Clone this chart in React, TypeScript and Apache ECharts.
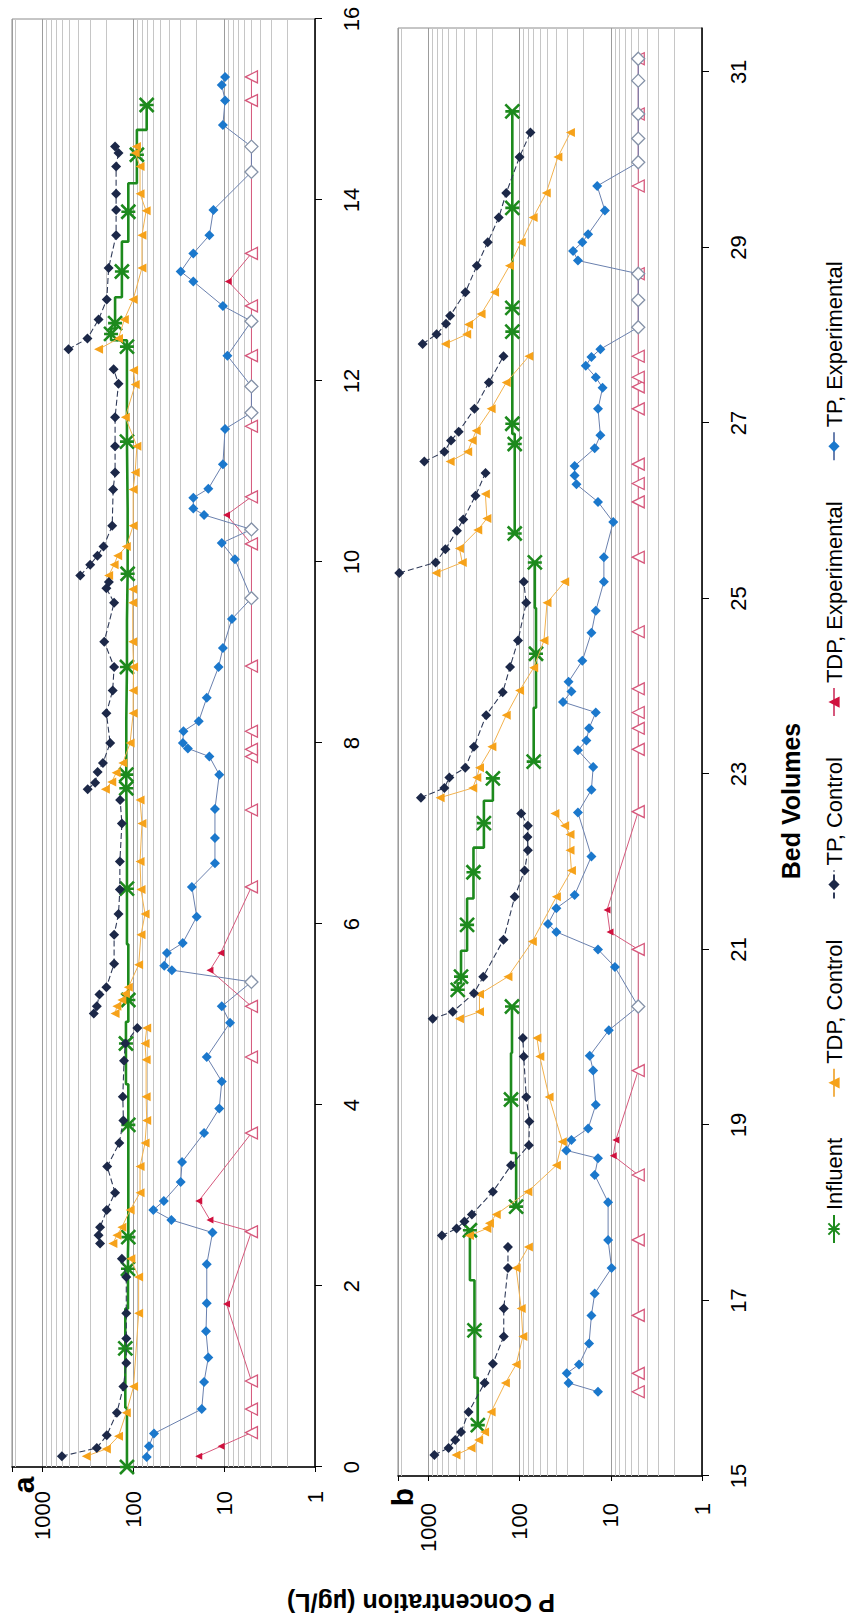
import React, { useEffect, useRef } from 'react';
import * as echarts from 'echarts';

// ---------- constants ----------
const ND = 5; // detection-limit value plotted with open markers
const W = 1621;
const H = 850;
const FONT = '"Liberation Sans", Arial, Helvetica, sans-serif';

// ---------- tick / grid values ----------
const panelBTicks = [15, 17, 19, 21, 23, 25, 27, 29, 31];
const logLabels = [1, 10, 100, 1000];
const minorGrid = [2, 3, 4, 5, 6, 7, 8, 9, 20, 30, 40, 50, 60, 70, 80, 90, 200, 300, 400, 500, 600, 700, 800, 900, 2000];

type P = [number, number] | null;

// ---------- Panel a (bed volumes 0-16) ----------
const aInfluent: P[] = [[0, 117], [1.31, 122], [2.19, 114], [2.54, 113], [3.78, 113], [4.68, 120], [5.16, 113], [6.39, 117], [7.5, 119], [7.65, 119], [8.84, 117], [9.87, 115], [11.33, 117], [12.38, 117], [12.52, 175], [12.64, 158], [13.21, 133], [13.87, 113], [14.5, 91], [15.05, 71]];

const aTDPControl: P[] = [
  [0.12, 328], [0.2, 197], [0.34, 145], [0.6, 119], [0.89, 99], [1.7, 87], [2.1, 87], [2.3, 106], null,
  [2.47, 167], [2.56, 151], [2.65, 133], [2.84, 108], [3.03, 84], [3.32, 84], [3.58, 74], [3.83, 71], [4.09, 72], [4.5, 72], [4.68, 74], [4.85, 71], null,
  [5.01, 158], [5.09, 151], [5.16, 133], [5.23, 122], [5.3, 113], [5.55, 87], [5.88, 82], [6.11, 74], [6.38, 82], [6.69, 84], [7.11, 80], [7.37, 84], null,
  [7.49, 202], [7.57, 172], [7.67, 154], [7.78, 130], [8.0, 108], [8.33, 100], [8.58, 100], [8.84, 99], [9.12, 101], [9.55, 101], [9.7, 101], null,
  [9.85, 186], [9.97, 162], [10.07, 148], [10.17, 119], [10.4, 100], [10.8, 100], [10.99, 95], [11.28, 91], [11.6, 122], [11.96, 95], [12.12, 99], null,
  [12.35, 240], [12.47, 145], [12.68, 125], [12.9, 100], [13.25, 80], [13.61, 80], [13.88, 72], [14.07, 84], [14.37, 84], [14.52, 95], [14.59, 92],
];

const aTPControl: P[] = [
  [0.12, 608], [0.21, 251], [0.35, 195], [0.6, 151], [0.89, 128], [1.15, 119], [1.42, 119], [1.7, 119], [2.1, 119], [2.3, 133], null,
  [2.47, 231], [2.56, 240], [2.65, 231], [2.84, 195], [3.03, 158], [3.32, 193], [3.58, 142], [3.83, 128], [4.09, 130], [4.49, 126], [4.68, 122], [4.85, 90], null,
  [5.01, 271], [5.09, 251], [5.22, 235], [5.3, 197], [5.56, 162], [5.88, 162], [6.11, 145], [6.38, 140], [6.69, 140], [7.11, 133], [7.37, 139], null,
  [7.49, 316], [7.56, 262], [7.68, 246], [7.78, 215], [8.0, 179], [8.33, 197], [8.58, 168], [8.84, 162], [9.12, 208], [9.55, 162], [9.71, 197], [9.78, 185], null,
  [9.85, 382], [9.97, 297], [10.07, 247], [10.17, 212], [10.4, 170], [10.8, 166], [10.99, 158], [11.28, 158], [11.6, 158], [11.97, 145], [12.13, 164], null,
  [12.35, 514], [12.47, 318], [12.68, 240], [12.9, 195], [13.25, 186], [13.61, 154], [13.89, 154], [14.07, 154], [14.37, 154], [14.52, 145], [14.59, 158],
];

const aTDPExp: P[] = [[0.12, 19], [0.23, 10.8], [0.38, ND], [0.64, ND], [0.95, ND], [1.8, 9.4], [2.6, ND], [2.73, 14.3], [2.94, 19], [3.69, ND], [4.53, ND], [5.09, ND], [5.49, 14.3], [5.68, 10.9], [6.41, ND], [7.26, ND], [7.85, ND], [7.93, ND], [8.13, ND], [8.85, ND], [10.2, ND], [10.52, 9.4], [10.72, ND], [11.5, ND], [12.28, ND], [12.83, ND], [13.1, 9.0], [13.41, ND], [15.1, ND], [15.36, ND]];

const aTPExp: P[] = [[0.11, 71], [0.23, 67], [0.37, 59], [0.64, 17.6], [0.94, 16.6], [1.21, 14.9], [1.5, 15.8], [1.81, 15.5], [2.24, 15.5], [2.59, 13.4], [2.73, 38], [2.84, 60], [2.94, 46], [3.15, 30], [3.37, 29], [3.69, 16.6], [3.96, 11.3], [4.26, 10.6], [4.53, 15.5], [4.91, 8.6], [5.09, 10.6], [5.36, ND], [5.49, 37.5], [5.54, 45.5], [5.68, 42.5], [5.79, 28.5], [6.08, 20], [6.41, 22.6], [6.67, 12.6], [6.95, 12.6], [7.27, 12.6], [7.65, 11.3], [7.85, 14.5], [7.94, 25], [8.0, 28.4], [8.13, 28], [8.24, 19], [8.5, 15.5], [8.84, 11.5], [9.05, 10.3], [9.37, 8.2], [9.6, ND], [10.03, 7.6], [10.21, 10.6], [10.36, ND], [10.52, 16.6], [10.59, 21.8], [10.71, 21.8], [10.81, 14.9], [11.08, 10.3], [11.47, 9.75], [11.65, ND], [11.94, ND], [12.28, 9.2], [12.66, ND], [12.83, 10.3], [13.1, 21.8], [13.21, 30], [13.41, 21.8], [13.61, 14.5], [13.89, 13.1], [14.31, ND], [14.59, ND], [14.83, 10.3], [15.1, 9.75], [15.27, 10.6], [15.36, 9.75]];

// ---------- Panel b (bed volumes 15-31.5) ----------
const bInfluent: P[] = [
  [15.58, 287], [16.66, 312], [17.8, 350], null,
  [18.07, 109], [19.29, 124], [20.35, 121], null,
  [20.54, 476], [20.69, 438], [21.28, 376], [21.88, 320], [22.44, 246], [22.95, 196], null,
  [23.14, 70], [24.37, 66], [25.41, 68], null,
  [25.74, 113], [26.76, 113], [26.99, 120], [28.04, 120], [28.31, 120], [29.45, 120], [30.55, 120],
];

const bTDPControl: P[] = [
  [15.24, 497], [15.32, 340], [15.41, 281], [15.5, 242], [15.73, 205], [16.06, 143], [16.27, 109], [16.59, 92], [16.91, 96], [17.37, 109], [17.61, 80], null,
  [17.74, 354], [17.82, 228], [17.88, 214], [17.98, 180], [18.24, 81], [18.54, 39.5], [18.81, 34], [19.32, 47.5], [19.78, 60], [19.99, 64.5], null,
  [20.21, 456], [20.29, 275], [20.49, 275], [20.69, 134], [21.09, 72.5], [21.6, 39.5], [21.9, 27], [22.13, 28], [22.31, 28], [22.41, 32], [22.55, 41], null,
  [22.73, 743], [22.84, 326], [22.96, 294], [23.07, 275], [23.31, 201], [23.67, 140], [23.95, 100], [24.21, 70], [24.52, 54], [24.95, 50], [25.19, 32], null,
  [25.29, 824], [25.41, 425], [25.57, 456], [25.78, 287], [25.91, 228], [26.19, 237], null,
  [26.56, 577], [26.67, 370], [26.8, 331], [26.91, 299], [27.16, 205], [27.46, 140], [27.76, 79], null,
  [27.9, 650], [28.01, 380], [28.12, 362], [28.24, 264], [28.49, 188], [28.79, 129], [29.06, 96], [29.34, 71], [29.62, 51], [30.03, 38], [30.31, 27.7],
];

const bTPControl: P[] = [
  [15.24, 859], [15.32, 600], [15.41, 507], [15.5, 438], [15.73, 362], [16.06, 242], [16.28, 196], [16.59, 149], [16.91, 149], [17.37, 134], [17.61, 134], null,
  [17.74, 710], [17.82, 490], [17.9, 402], [17.98, 333], [18.24, 196], [18.54, 124], [18.77, 79], [19.04, 78], [19.32, 84.5], [19.78, 90], [19.99, 92], null,
  [20.21, 896], [20.29, 540], [20.5, 316], [20.69, 250], [21.11, 150], [21.6, 113], [21.9, 88], [22.13, 81], [22.28, 82], [22.41, 81], [22.55, 96], null,
  [22.73, 1205], [22.84, 667], [22.96, 588], [23.07, 394], [23.31, 316], [23.67, 232], [23.93, 153], [24.22, 127], [24.52, 104], [24.95, 84.5], [25.19, 90], null,
  [25.29, 2083], [25.41, 832], [25.56, 650], [25.77, 486], [25.9, 414], [26.17, 304], [26.43, 236], null,
  [26.56, 1107], [26.67, 667], [26.8, 564], [26.9, 465], [27.16, 312], [27.46, 217], [27.76, 150], null,
  [27.9, 1154], [28.01, 812], [28.13, 640], [28.22, 577], [28.49, 392], [28.79, 294], [29.06, 223], [29.34, 169], [29.62, 140], [30.03, 100], [30.31, 76],
];

const bTDPExp: P[] = [[15.96, ND], [16.17, ND], [16.83, ND], [17.69, ND], [18.43, ND], [18.65, 9.4], [18.83, 8.8], [19.62, ND], [21.0, ND], [21.2, 10.2], [21.45, 11], [22.57, ND], [23.28, ND], [23.52, ND], [23.7, ND], [23.97, ND], [24.62, ND], [25.47, ND], [26.1, ND], [26.31, ND], [26.53, ND], [27.16, ND], [27.41, ND], [27.52, ND], [27.76, ND], [28.7, ND], [29.7, ND], [30.52, ND], [31.15, ND]];

const bTPExp: P[] = [[15.96, 13.8], [16.06, 29], [16.17, 30.4], [16.27, 22.3], [16.51, 17.3], [16.83, 16.3], [17.08, 15], [17.37, 9.8], [17.69, 10.7], [18.12, 10.7], [18.43, 15], [18.62, 13.8], [18.71, 30.7], [18.83, 27], [18.96, 17.7], [19.23, 14.6], [19.62, 15.6], [19.79, 17], [20.08, 10.5], [20.35, ND], [20.8, 9.0], [21.0, 13.8], [21.2, 39.5], [21.29, 48.8], [21.47, 39.5], [21.62, 24.9], [22.06, 16.3], [22.56, 22.9], [22.82, 16.3], [23.08, 15.6], [23.27, 22.9], [23.38, 18.5], [23.52, 17.3], [23.7, 14.6], [23.82, 33.4], [23.94, 27], [24.05, 29], [24.29, 20.5], [24.61, 16.3], [24.86, 14.6], [25.19, 11.9], [25.47, 11.9], [25.87, 9.4], [26.1, 13.8], [26.3, 23.8], [26.4, 24.9], [26.51, 24.9], [26.71, 15], [26.86, 13], [27.16, 13.8], [27.4, 12.3], [27.52, 14.6], [27.65, 18.8], [27.75, 16.3], [27.84, 13], [28.09, ND], [28.4, ND], [28.7, ND], [28.85, 22.9], [28.96, 25.9], [29.06, 20.5], [29.15, 17.7], [29.42, 11.6], [29.7, 14.1], [29.97, ND], [30.24, ND], [30.52, ND], [30.9, ND], [31.15, ND]];

// ---------- styles ----------
const C_GREEN = '#1d8a1d';
const C_ORANGE = '#f6a21a';
const C_ORANGE_LINE = '#f2b24e';
const C_NAVY = '#1c2848';
const C_NAVY_LINE = '#2f3a58';
const C_RED = '#d0113e';
const C_RED_LINE = '#d6587c';
const C_BLUE = '#1b78cc';
const C_BLUE_LINE = '#6a80ae';
const C_OPEN_DIAMOND = '#8592a8';
const STAR = 'path://M0,0L10,10M10,0L0,10M5,0L5,10';

function splitRuns(arr: P[]): [number, number][][] {
  const out: [number, number][][] = [[]];
  for (const p of arr) {
    if (p === null) out.push([]);
    else out[out.length - 1].push(p);
  }
  return out.filter((r) => r.length > 0);
}

function buildPanel(i: number, infl: P[], tdpc: P[], tpc: P[], tdpe: P[], tpe: P[]) {
  const series: any[] = [];
  // minor log gridlines
  series.push({
    type: 'line', xAxisIndex: i, yAxisIndex: i, data: [], silent: true, z: 1,
    markLine: {
      silent: true, z: 1, symbol: ['none', 'none'], label: { show: false },
      lineStyle: { color: '#c6c6c6', width: 1, type: 'solid' },
      emphasis: { disabled: true },
      data: minorGrid.map((v) => ({ yAxis: v })),
    },
  });
  splitRuns(infl).forEach((run) => series.push({
    name: 'Influent', type: 'line', xAxisIndex: i, yAxisIndex: i, step: 'middle',
    data: run, symbol: STAR, symbolSize: 14, symbolKeepAspect: true, z: 3,
    lineStyle: { color: C_GREEN, width: 2.6 },
    itemStyle: { color: C_GREEN, borderColor: C_GREEN, borderWidth: 2.6 },
  }));
  splitRuns(tdpc).forEach((run) => series.push({
    name: 'TDP, Control', type: 'line', xAxisIndex: i, yAxisIndex: i, data: run,
    symbol: 'triangle', symbolSize: 9, z: 4,
    lineStyle: { color: C_ORANGE_LINE, width: 1 },
    itemStyle: { color: C_ORANGE },
  }));
  splitRuns(tpc).forEach((run) => series.push({
    name: 'TP, Control', type: 'line', xAxisIndex: i, yAxisIndex: i, data: run,
    symbol: 'diamond', symbolSize: 10, z: 5,
    lineStyle: { color: C_NAVY_LINE, width: 1.1, type: [6, 3] },
    itemStyle: { color: C_NAVY },
  }));
  splitRuns(tdpe).forEach((run) => series.push({
    name: 'TDP, Experimental', type: 'line', xAxisIndex: i, yAxisIndex: i, z: 6,
    data: run.map((p) => (p[1] === ND
      ? { value: p, symbolSize: 12, itemStyle: { color: '#ffffff', borderColor: C_RED_LINE, borderWidth: 1.3 } }
      : { value: p })),
    symbol: 'triangle', symbolSize: 7,
    lineStyle: { color: C_RED_LINE, width: 1 },
    itemStyle: { color: C_RED },
  }));
  splitRuns(tpe).forEach((run) => series.push({
    name: 'TP, Experimental', type: 'line', xAxisIndex: i, yAxisIndex: i, z: 7,
    data: run.map((p) => (p[1] === ND
      ? { value: p, symbolSize: 13, itemStyle: { color: '#ffffff', borderColor: C_OPEN_DIAMOND, borderWidth: 1.3 } }
      : { value: p })),
    symbol: 'diamond', symbolSize: 10,
    lineStyle: { color: C_BLUE_LINE, width: 1 },
    itemStyle: { color: C_BLUE },
  }));
  return series;
}

function logAxis(i: number, margin: number) {
  return {
    type: 'log', logBase: 10, min: 1, max: 2150, gridIndex: i,
    axisLine: { show: true, lineStyle: { color: '#000', width: 1.5 } },
    axisTick: { show: true, length: 5, lineStyle: { color: '#000', width: 1 } },
    axisLabel: {
      fontSize: 22, color: '#000', fontFamily: FONT, margin,
      formatter: (v: number) => (logLabels.includes(Math.round(v)) ? String(Math.round(v)) : ''),
    },
    splitLine: { show: true, lineStyle: { color: '#9c9c9c', width: 1 } },
  };
}

const option: any = {
  animation: false,
  backgroundColor: '#ffffff',
  textStyle: { fontFamily: FONT },
  grid: [
    { left: 154, right: 19, top: 12, height: 303, show: true, borderColor: '#8c8c8c', borderWidth: 1, containLabel: false },
    { left: 145, right: 28, top: 398, height: 304, show: true, borderColor: '#8c8c8c', borderWidth: 1, containLabel: false },
  ],
  xAxis: [
    {
      type: 'value', min: 0, max: 16, interval: 2, gridIndex: 0,
      axisLine: { onZero: false, lineStyle: { color: '#000', width: 1.5 } },
      axisTick: { length: 7, lineStyle: { color: '#000' } },
      axisLabel: { fontSize: 22, color: '#000', fontFamily: FONT, margin: 25 },
      splitLine: { show: false },
    },
    {
      type: 'value', min: 15, max: 31.5, gridIndex: 1,
      axisLine: { onZero: false, lineStyle: { color: '#000', width: 1.5 } },
      axisTick: { length: 7, lineStyle: { color: '#000' }, customValues: panelBTicks },
      axisLabel: { fontSize: 22, color: '#000', fontFamily: FONT, margin: 25, customValues: panelBTicks },
      splitLine: { show: false },
    },
  ],
  yAxis: [logAxis(0, 24), logAxis(1, 27)],
  legend: {
    data: ['Influent', 'TDP, Control', 'TP, Control', 'TDP, Experimental', 'TP, Experimental'],
    left: 372, top: 818, orient: 'horizontal',
    itemWidth: 28, itemHeight: 14, itemGap: 40,
    textStyle: { fontSize: 22, color: '#000', fontFamily: FONT },
  },
  graphic: [
    { type: 'text', x: 136, y: 23, style: { text: 'a', fill: '#000', fontSize: 30, fontWeight: 'bold', fontFamily: FONT, align: 'center', verticalAlign: 'middle', textAlign: 'center', textVerticalAlign: 'middle' } },
    { type: 'text', x: 124, y: 402, style: { text: 'b', fill: '#000', fontSize: 30, fontWeight: 'bold', fontFamily: FONT, align: 'center', verticalAlign: 'middle', textAlign: 'center', textVerticalAlign: 'middle' } },
    { type: 'text', x: 18, y: 421, rotation: Math.PI / 2, style: { text: 'P Concentration (µg/L)', fill: '#000', fontSize: 25, fontWeight: 'bold', fontFamily: FONT, align: 'center', verticalAlign: 'middle', textAlign: 'center', textVerticalAlign: 'middle' } },
    { type: 'text', x: 820, y: 791, style: { text: 'Bed Volumes', fill: '#000', fontSize: 25, fontWeight: 'bold', fontFamily: FONT, align: 'center', verticalAlign: 'middle', textAlign: 'center', textVerticalAlign: 'middle' } },
  ],
  series: [
    ...buildPanel(0, aInfluent, aTDPControl, aTPControl, aTDPExp, aTPExp),
    ...buildPanel(1, bInfluent, bTDPControl, bTPControl, bTDPExp, bTPExp),
  ],
};

export default function App() {
  const ref = useRef<HTMLDivElement>(null);
  useEffect(() => {
    if (!ref.current) return;
    const chart = echarts.init(ref.current, null, { renderer: 'svg', width: W, height: H });
    chart.setOption(option);
    return () => chart.dispose();
  }, []);
  return (
    <div style={{ position: 'absolute', left: 0, top: 0, width: 850, height: 1621, overflow: 'hidden', background: '#fff' }}>
      <div
        ref={ref}
        style={{
          position: 'absolute', left: 0, top: 0, width: W, height: H,
          transformOrigin: '0 0', transform: `translate(0px, ${W}px) rotate(-90deg)`,
        }}
      />
    </div>
  );
}
